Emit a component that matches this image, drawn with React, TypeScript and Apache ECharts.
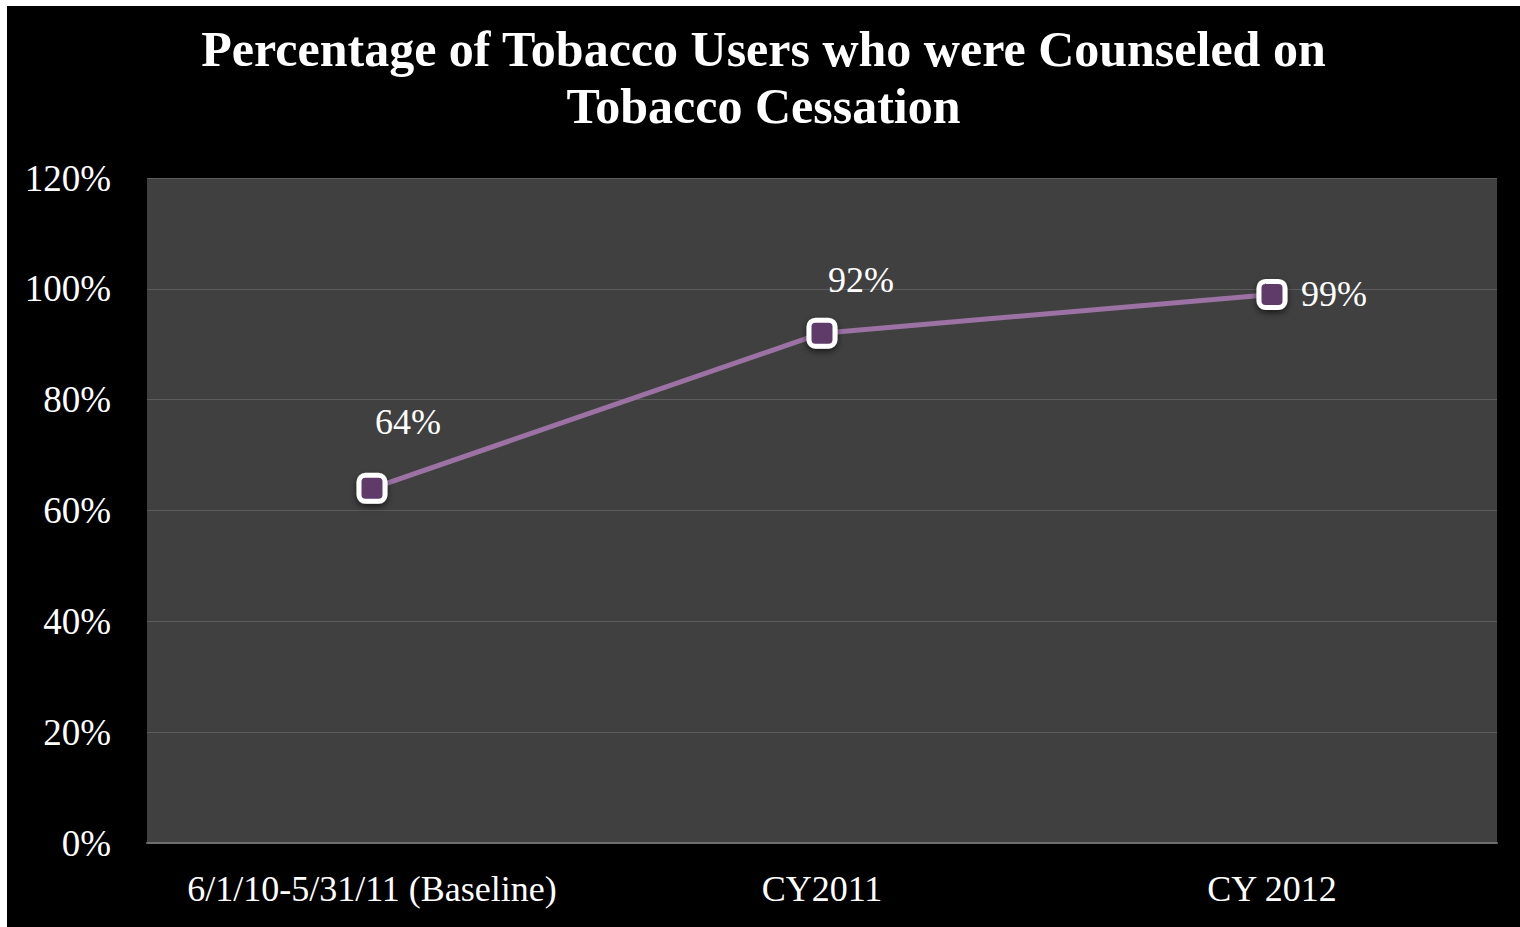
import React, { useEffect, useRef } from "react";
import * as echarts from "echarts";

const titleLines = ["Percentage of Tobacco Users who were Counseled on", "Tobacco Cessation"];
const categories = ["6/1/10-5/31/11 (Baseline)", "CY2011", "CY 2012"];
const values = [64, 92, 99];
const labelOffsets = [[36, -66], [39, -53], [62, 0]];

const FONT = "'Liberation Serif', 'DejaVu Serif', serif";

export default function App() {
  const ref = useRef<HTMLDivElement>(null);
  useEffect(() => {
    document.body.style.margin = "0";
    document.body.style.overflow = "hidden";
    document.body.style.background = "#000000";
    document.documentElement.style.background = "#000000";
    const chart = echarts.init(ref.current!, undefined, { renderer: "svg" });
    chart.setOption({
      animation: false,
      backgroundColor: "#000000",
      title: {
        text: titleLines.join("\n"),
        left: "center",
        top: 9,
        textStyle: {
          color: "#ffffff",
          fontFamily: FONT,
          fontWeight: "bold",
          fontSize: 50,
          lineHeight: 57,
        },
      },
      grid: {
        left: 140,
        top: 172,
        right: 23,
        bottom: 84,
        show: true,
        backgroundColor: "#404040",
        borderWidth: 0,
      },
      xAxis: {
        type: "category",
        data: categories,
        boundaryGap: true,
        axisLine: { show: true, lineStyle: { color: "#6e6e6e", width: 2 } },
        axisTick: { show: false },
        axisLabel: {
          color: "#ffffff",
          fontFamily: FONT,
          fontSize: 36,
          margin: 28,
          interval: 0,
          hideOverlap: false,
        },
      },
      yAxis: {
        type: "value",
        min: 0,
        max: 120,
        interval: 20,
        axisLine: { show: false },
        axisTick: { show: false },
        splitLine: { show: true, lineStyle: { color: "#5c5c5c", width: 1 } },
        axisLabel: {
          color: "#ffffff",
          fontFamily: FONT,
          fontSize: 37,
          margin: 36,
          formatter: (v: number) => v + "%",
        },
      },
      series: [
        {
          type: "line",
          data: values.map((v, i) => ({
            value: v,
            label: {
              show: true,
              position: "inside",
              offset: labelOffsets[i],
              formatter: v + "%",
              color: "#ffffff",
              fontFamily: FONT,
              fontSize: 36,
            },
          })),
          symbol: "roundRect",
          symbolSize: 26,
          lineStyle: { color: "#9b72a3", width: 5 },
          itemStyle: {
            color: "#5e3a69",
            borderColor: "#ffffff",
            borderWidth: 5,
            shadowColor: "rgba(0,0,0,0.6)",
            shadowBlur: 6,
            shadowOffsetY: 3,
          },
        },
      ],
    });
    return () => chart.dispose();
  }, []);
  return (
    <>
      <div style={{ position: "fixed", left: 0, top: 0, width: 7, height: "100vh", background: "#ffffff" }} />
      <div style={{ position: "fixed", left: 0, top: 0, width: "100vw", height: 6, background: "#ffffff" }} />
      <div
        ref={ref}
        style={{ position: "absolute", left: 7, top: 6, width: 1513, height: 921 }}
      />
    </>
  );
}
